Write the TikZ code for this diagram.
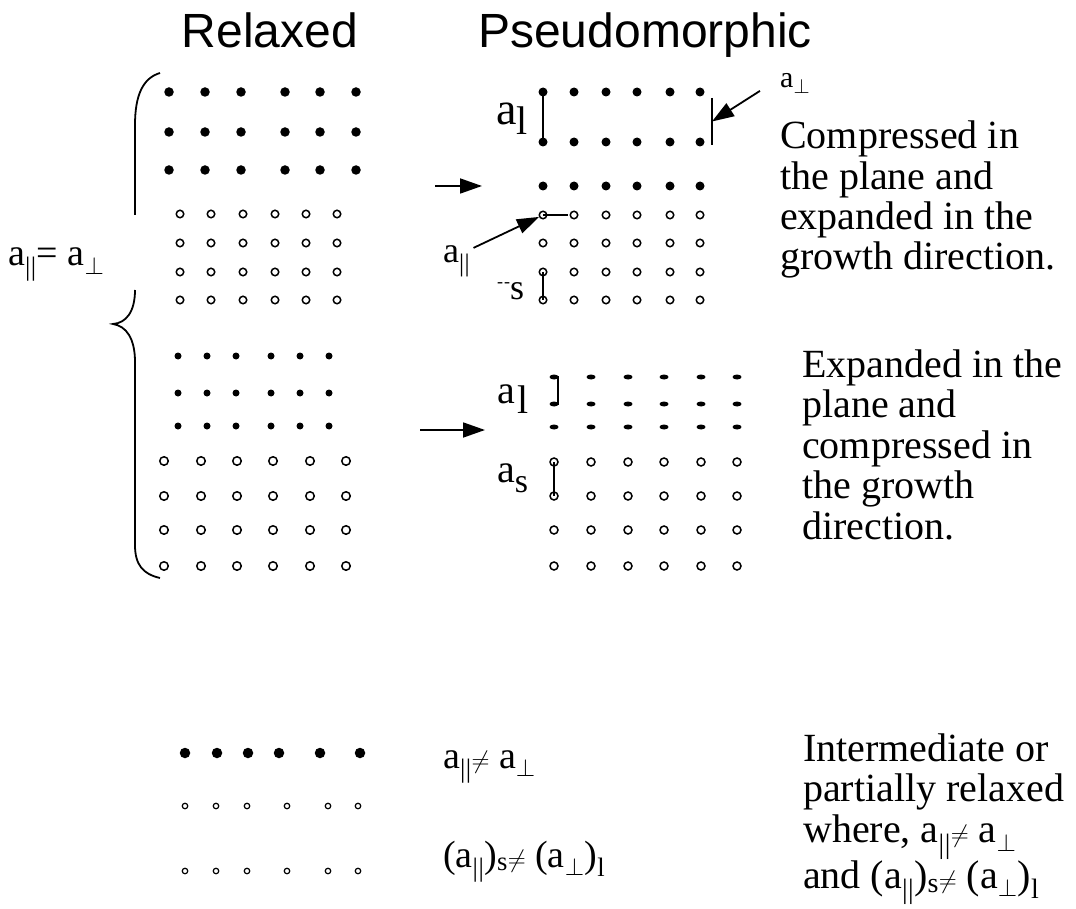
\documentclass[tikz,border=0pt]{standalone}
\usepackage{fontspec}
\setmainfont{Liberation Serif}
\setsansfont{Liberation Sans}
\usetikzlibrary{arrows.meta,calc,shapes.geometric}
\newcommand{\apar}{a\textsubscript{|\kern.5pt|}}
\newcommand{\aperp}{a\textsubscript{$\perp$}}

\begin{document}
\begin{tikzpicture}[
  x=1pt,y=-1pt,
  atom/.style={circle,inner sep=0pt,line width=1.5pt},
  bigatom/.style={atom,fill=black,minimum size=9.5pt},
  smallatom/.style={atom,fill=black,minimum size=7pt},
  ringatom/.style={atom,draw=black,minimum size=7.5pt},
  flatatom/.style={ellipse,fill=black,inner sep=0pt,minimum width=9pt,minimum height=5pt},
  tag/.style={inner sep=0pt,anchor=base west,font=\fontsize{38}{38}\selectfont},
  note/.style={inner sep=0pt,anchor=base west,align=left,font=\fontsize{40}{40.5}\selectfont},
  heading/.style={inner sep=0pt,anchor=base,font=\sffamily\fontsize{48}{48}\selectfont},
  ptr/.style={-{Triangle[length=22pt,width=15pt]},line width=1.8pt},
  gauge/.style={line width=1.8pt}
]
\useasboundingbox (0,0) rectangle (1076,909);

% headings
\node[heading] (relaxed) at (270,48) {Relaxed};
\node[heading] (pseudo) at (645,48) {Pseudomorphic};

% relaxed, first pair
\foreach \x [count=\i] in {169,205,241,285,320,356}
  \foreach \y [count=\j] in {92,132,170}
    \node[bigatom] (rf1-\j-\i) at (\x,\y) {};
\foreach \x [count=\i] in {180,211,243,275,306,337}
  \foreach \y [count=\j] in {214,243,272,300}
    \node[ringatom] (rs1-\j-\i) at (\x,\y) {};

% relaxed, second pair
\foreach \x [count=\i] in {178,207,236,271,300,329}
  \foreach \y [count=\j] in {356,393,426}
    \node[smallatom] (rf2-\j-\i) at (\x,\y) {};
\foreach \x [count=\i] in {164,201,237,273,310,346}
  \foreach \y [count=\j] in {461,496,530,566}
    \node[ringatom,minimum size=8.5pt] (rs2-\j-\i) at (\x,\y) {};

% brace
\draw[gauge] (160,73) .. controls (143,78) and (135,95) .. (135,125) -- (135,215);
\draw[gauge] (135,290) .. controls (135,312) and (126,323) .. (113,324)
  .. controls (126,326) and (135,338) .. (135,362) -- (135,545)
  .. controls (135,565) and (143,574) .. (160,578);
\node[tag] (equal) at (8,266) {\apar= \aperp};

% pseudomorphic, compressed film
\foreach \x [count=\i] in {543,574,606,637,670,700}
  \foreach \y [count=\j] in {92,142,186}
    \node[bigatom,minimum size=9pt] (pf1-\j-\i) at (\x,\y) {};
\foreach \x [count=\i] in {543,574,606,637,670,700}
  \foreach \y [count=\j] in {215,243,272,300}
    \node[ringatom] (ps1-\j-\i) at (\x,\y) {};

\coordinate (in1) at (435,186);
\coordinate (out1) at (482,186);
\draw[ptr] (in1) -- (out1);

\node[tag,font=\fontsize{46}{46}\selectfont] (al1) at (496,125)
  {a\raisebox{-.2em}{\fontsize{40}{40}\selectfont l}};
\draw[gauge] (pf1-1-1.center) -- (pf1-2-1.center);

\node[tag,font=\fontsize{30}{30}\selectfont] (perp) at (780,88) {\aperp};
\coordinate (perptop) at (712,98);
\coordinate (perpbot) at (712,145);
\draw[gauge] (perptop) -- (perpbot);
\draw[ptr] ([shift={(-20,7)}]perp.west) -- ($(perptop)!.5!(perpbot)$);

\node[tag,font=\fontsize{36}{36}\selectfont] (par) at (443,263) {\apar};
\draw[ptr] ([shift={(3,2)}]par.north east) -- (ps1-1-1);
\draw[gauge] (ps1-1-1.center) -- ($(ps1-1-1.center)!.8!(ps1-1-2.center)$);

\node[tag,font=\fontsize{36}{36}\selectfont] (as1) at (497,300)
  {\raisebox{.35em}{\fontsize{18}{18}\selectfont -\kern1pt-}s};
\draw[gauge] (ps1-3-1.center) -- (ps1-4-1.center);

\node[note] (compr) at (780,270)
  {Compressed in\\the plane and\\expanded in the\\growth direction.};

% pseudomorphic, expanded film
\foreach \x [count=\i] in {554,591,628,664,701,737}
  \foreach \y [count=\j] in {377,404,427}
    \node[flatatom] (pf2-\j-\i) at (\x,\y) {};
\foreach \x [count=\i] in {554,591,628,664,701,737}
  \foreach \y [count=\j] in {462,496,530,566}
    \node[ringatom,minimum size=8pt] (ps2-\j-\i) at (\x,\y) {};

\coordinate (in2) at (420,430);
\coordinate (out2) at (485,430);
\draw[ptr] (in2) -- (out2);

\node[tag,font=\fontsize{40}{40}\selectfont] (al2) at (497,403) {a\kern3pt\raisebox{-.25em}{l}};
\draw[gauge] ([xshift=-3pt]pf2-1-1.center) -- ++(7,0) |- ([xshift=-3pt]pf2-2-1.center);
\node[tag,font=\fontsize{40}{40}\selectfont] (as2) at (497,482) {a\raisebox{-.25em}{\fontsize{34}{34}\selectfont s}};
\draw[gauge] (ps2-1-1.center) -- (ps2-2-1.center);

\node[note] (expan) at (802,539)
  {Expanded in the\\plane and\\compressed in\\the growth\\direction.};

% intermediate case
\foreach \x [count=\i] in {185,217,248,279,320,360}
  \node[bigatom,minimum size=10.5pt] (mf-\i) at (\x,753) {};
\foreach \x [count=\i] in {185,216,247,287,328,358}
  \foreach \y [count=\j] in {806,871}
    \node[ringatom,line width=1.2pt,minimum size=5.5pt] (ms\j-\i) at (\x,\y) {};

\node[tag] (neq) at (443,768) {\apar$\neq$ \aperp};
\node[tag] (neqsub) at (443,867)
  {(\apar)\textsubscript{s}$\neq$ (\aperp)\textsubscript{l}};

\node[note] (inter) at (803,888)
  {Intermediate or\\partially relaxed\\where, \apar$\neq$ \aperp\\and (\apar)\textsubscript{s}$\neq$ (\aperp)\textsubscript{l}};
\end{tikzpicture}
\end{document}
